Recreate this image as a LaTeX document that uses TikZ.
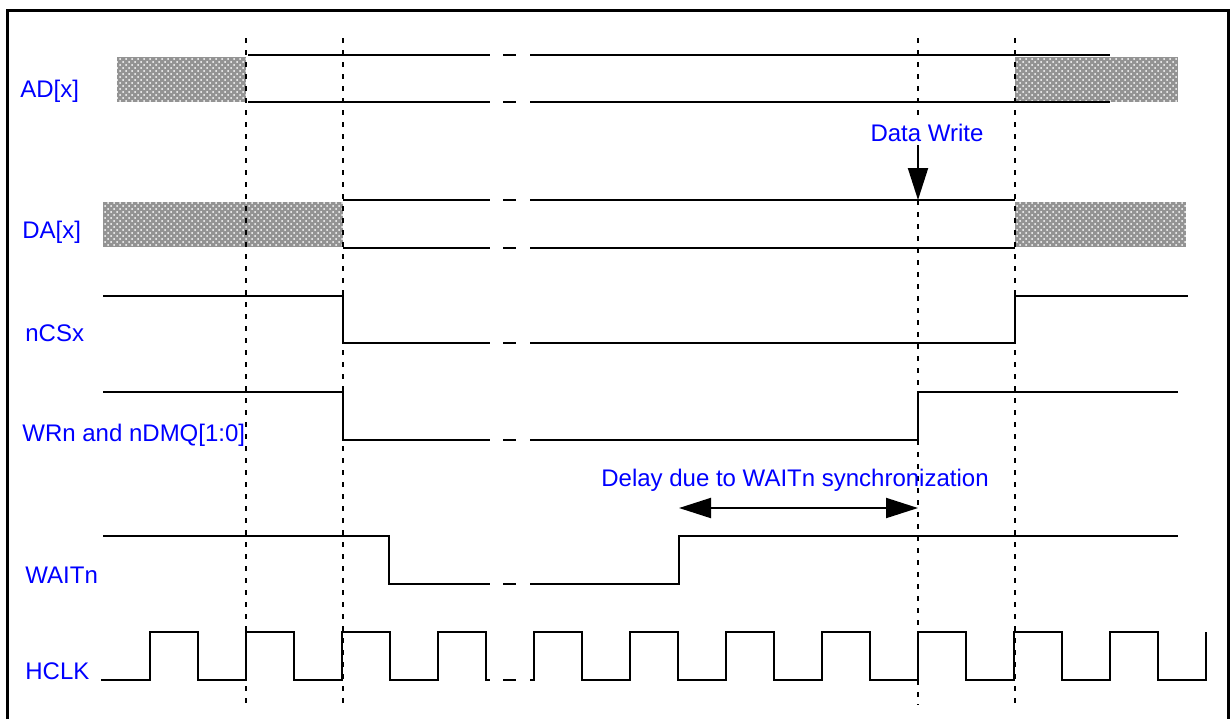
\documentclass[tikz,border=0pt]{standalone}
\usepackage{fontspec}
\setmainfont{Liberation Sans}
\usetikzlibrary{patterns,arrows.meta}

\tikzset{
    sig/.style={line width=1pt},
    frame/.style={line width=1.5pt},
    tick/.style={line width=1.1pt, dash pattern=on 2.5pt off 3.5pt},
    hatchbox/.style={fill=gray!85, postaction={pattern=crosshatch dots, pattern color=white}},
    lbl/.style={text=blue, anchor=base west, inner sep=0pt, font=\fontsize{12}{14}\selectfont},
    note/.style={text=blue, anchor=base, inner sep=0pt, font=\fontsize{12}{14}\selectfont},
    bigtip/.style={-{Triangle[length=16pt,width=10pt]}, line width=1pt}
}

\begin{document}
\begin{tikzpicture}[x=0.5pt,y=-0.5pt]
            \useasboundingbox (0,0) rectangle (1230,719);

            % outer frame, cut at the bottom
            \draw[frame] (7,719) -- (7,10) -- (1228,10) -- (1228,719);

            % hatched (undefined) regions
            \fill[hatchbox] (117,57) rectangle (246,102);
            \fill[hatchbox] (1015,57) rectangle (1178,102);
            \fill[hatchbox] (103,202) rectangle (343,247);
            \fill[hatchbox] (1015,202) rectangle (1186,247);

            % dotted time markers
            \foreach \x in {246,343,1015}{
                \draw[tick] (\x,38) -- (\x,705);
            }
            \draw[tick] (918,38) -- (918,115);
            \draw[tick] (918,200) -- (918,705);

            % signal names
            \node[lbl] (ad)   at (20,97)  {AD[x]};
            \node[lbl] (da)   at (22,238) {DA[x]};
            \node[lbl] (cs)   at (25,341) {nCSx};
            \node[lbl] (wr)   at (22,441) {WRn and nDMQ[1:0]};
            \node[lbl] (wait) at (25,583) {WAITn};
            \node[lbl] (clk)  at (25,679) {HCLK};

            % AD[x]
            \draw[sig] (248,55) -- (490,55);   \draw[sig] (530,55) -- (1110,55);
            \draw[sig] (248,102) -- (490,102); \draw[sig] (530,102) -- (1110,102);

            % DA[x]
            \draw[sig] (343,200) -- (490,200); \draw[sig] (530,200) -- (1015,200);
            \draw[sig] (343,248) -- (490,248); \draw[sig] (530,248) -- (1015,248);

            % nCSx
            \draw[sig] (103,296) -- (343,296) -- (343,343) -- (490,343);
            \draw[sig] (530,343) -- (1015,343) -- (1015,296) -- (1188,296);

            % WRn and nDMQ[1:0]
            \draw[sig] (103,392) -- (343,392) -- (343,440) -- (490,440);
            \draw[sig] (530,440) -- (918,440) -- (918,392) -- (1178,392);

            % WAITn
            \draw[sig] (103,536) -- (389,536) -- (389,584) -- (490,584);
            \draw[sig] (530,584) -- (679,584) -- (679,536) -- (1178,536);

            % HCLK
            \draw[sig] (101,680) \foreach \t in {150,246,342,438}{
                -- (\t,680) -- (\t,632) -- (\t+48,632) -- (\t+48,680)} -- (490,680);
            \draw[sig] (530,680) \foreach \t in {534,630,726,822,918,1014,1110}{
                -- (\t,680) -- (\t,632) -- (\t+48,632) -- (\t+48,680)} -- (1206,680) -- (1206,632);

            % break marks
            \foreach \y in {55,102,200,248,343,440,584,680}{
                \draw[sig] (503,\y) -- (516,\y);
            }

            % annotations
            \node[note] (dw) at (927,141) {Data Write};
            \coordinate (dwend) at (918,200);
            \draw[bigtip] (918,145) -- (dwend);

            \node[note] (dly) at (795,486) {Delay due to WAITn synchronization};
            \coordinate (dlyl) at (679,508);
            \coordinate (dlyr) at (918,508);
            \draw[bigtip, {Triangle[length=16pt,width=10pt]}-{Triangle[length=16pt,width=10pt]}] (dlyl) -- (dlyr);
        \end{tikzpicture}
\end{document}
